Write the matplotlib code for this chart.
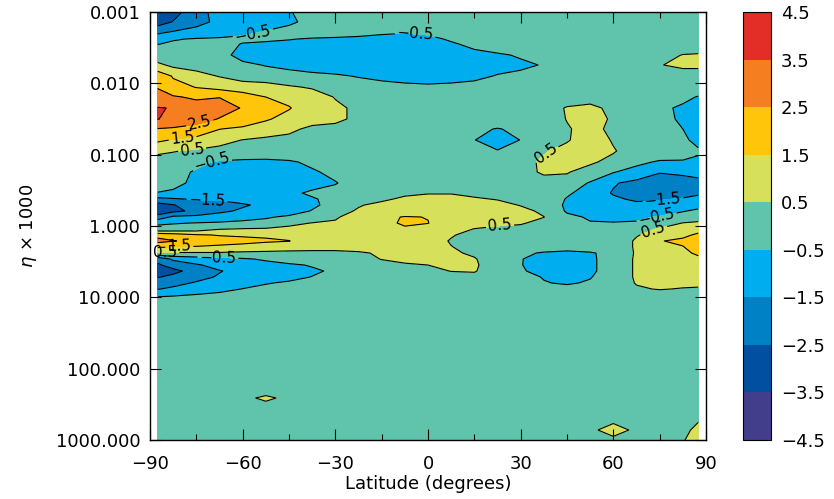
import numpy as np
import matplotlib
matplotlib.use("Agg")
import matplotlib.pyplot as plt
from matplotlib.colors import ListedColormap, BoundaryNorm
from matplotlib.ticker import FixedLocator, NullLocator, FixedFormatter

plt.rcParams['font.family'] = ['DejaVu Sans']

# latitude columns (degrees)
lat = [-87.5, -82.5, -75, -67.5, -60, -52.5, -45, -37.5, -30, -22.5, -15, -7.5, 0,
       7.5, 15, 22.5, 30, 37.5, 45, 52.5, 60, 67.5, 75, 82.5, 87.5]

# log10(eta x 1000) rows
log_eta = [-3.000, -2.860, -2.706, -2.621, -2.551, -2.397, -2.257, -2.103, -1.949,
           -1.808, -1.654, -1.500, -1.360, -1.206, -1.051, -0.897, -0.757, -0.603,
           -0.462, -0.378, -0.294, -0.210, -0.126, -0.042, 0.042, 0.126, 0.210,
           0.295, 0.379, 0.463, 0.547, 0.631, 0.715, 0.799, 0.883, 0.967, 1.052,
           1.290, 2.201, 2.411, 2.608, 2.860, 3.000]

field = [
    [-3.2, -2.8, -2.0, -1.0, -0.9, -0.8, -0.55, -0.2, 0, 0, 0, 0, 0, 0, 0, 0, 0, 0, 0, 0, 0, 0, 0, 0, 0],
    [-2.9, -2.45, -1.9, -1.2, -0.9, -0.8, -0.65, -0.25, 0, 0, 0, 0, 0, 0, 0, 0, 0, 0, 0, 0, 0, 0, 0, 0, 0],
    [-1.6, -1.3, -0.9, -0.8, -0.65, -0.4, -0.1, 0, 0, -0.2, -0.4, -0.48, -0.4, -0.2, 0, 0, 0, 0, 0, 0, 0, 0, 0, 0, 0],
    [-1.0, -0.55, -0.45, -0.4, -0.3, -0.3, -0.45, -0.6, -0.7, -0.75, -0.8, -0.8, -0.7, -0.4, -0.1, 0, 0, 0, 0, 0, 0, 0, 0, 0.1, 0.1],
    [-0.52, -0.4, -0.3, -0.15, -0.55, -0.7, -0.75, -0.8, -0.85, -0.85, -0.85, -0.85, -0.8, -0.6, -0.3, -0.1, 0, 0, 0, 0, 0, 0, 0, 0.15, 0.2],
    [0, -0.1, -0.15, -0.2, -0.8, -0.9, -0.9, -0.9, -0.9, -0.9, -0.9, -0.9, -0.9, -0.8, -0.75, -0.6, -0.42, -0.1, 0, 0, 0, 0, 0.3, 0.52, 0.55],
    [0.7, 0.3, 0.2, 0, -0.3, -0.55, -0.75, -0.85, -0.9, -0.9, -0.9, -0.9, -0.9, -0.85, -0.8, -0.75, -0.65, -0.45, -0.1, 0, 0, 0, 0.48, 0.6, 0.62],
    [2.2, 1.4, 0.8, 0.45, 0.1, 0, -0.1, -0.3, -0.4, -0.55, -0.7, -0.8, -0.85, -0.8, -0.7, -0.45, -0.3, -0.1, 0, 0, 0, 0, 0.2, 0.25, 0.2],
    [2.45, 1.9, 1.45, 1.2, 1.0, 0.9, 0.6, 0.4, 0.1, -0.1, -0.2, -0.3, -0.35, -0.3, -0.2, -0.1, 0, 0, 0, 0, 0, 0, 0, 0, -0.1],
    [2.8, 2.6, 2.35, 2.48, 2.0, 1.5, 1.3, 1.0, 0.45, 0.3, 0.1, 0, 0, 0, 0, 0, 0, 0, 0.2, 0.2, 0, 0, 0, -0.3, -0.55],
    [3.56, 3.45, 3.0, 2.85, 2.45, 2.0, 1.55, 1.05, 0.7, 0.3, 0.1, 0, 0, 0, 0, 0, 0, 0.2, 0.55, 0.7, 0.3, 0, -0.3, -0.65, -0.9],
    [3.52, 3.3, 2.9, 2.45, 2.1, 1.6, 1.2, 0.9, 0.7, 0.3, 0.1, 0, 0, 0, 0, 0, 0, 0.2, 0.52, 0.8, 0.4, 0, -0.3, -0.6, -0.9],
    [2.45, 2.35, 2.1, 1.52, 1.3, 1.0, 0.75, 0.25, 0.2, 0, 0, 0, 0, 0, -0.3, -0.55, -0.3, 0.1, 0.45, 0.7, 0.35, 0, -0.2, -0.5, -0.85],
    [1.65, 1.45, 1.2, 0.8, 0.48, 0.3, 0.15, 0, 0, 0, 0, 0, 0, 0, -0.48, -0.9, -0.48, 0.1, 0.45, 0.8, 0.45, 0.1, -0.1, -0.3, -0.8],
    [0.7, 0.55, 0.35, 0.2, 0.1, 0, 0, 0, 0, 0, 0, 0, 0, 0, -0.3, -0.45, 0.1, 0.45, 0.7, 0.8, 0.55, 0.2, 0, -0.1, -0.35],
    [0, 0, -0.3, -0.6, -0.7, -0.7, -0.6, -0.35, -0.1, 0, 0, 0, 0, 0, 0, 0, 0.3, 0.6, 0.8, 0.6, 0.3, -0.3, -0.6, -0.6, -0.75],
    [0, -0.2, -0.6, -0.8, -0.9, -0.9, -0.8, -0.6, -0.3, 0, 0, 0, 0, 0, 0, 0, 0.25, 0.6, 0.55, 0.2, -0.45, -0.85, -1.45, -1.3, -1.1],
    [0, -0.2, -0.75, -1.0, -1.0, -1.0, -0.9, -0.8, -0.55, -0.1, 0, 0, 0, 0, 0, 0, 0, 0.2, 0.2, -0.6, -1.4, -1.8, -2.0, -2.0, -1.9],
    [-0.55, -0.7, -1.1, -1.2, -1.2, -1.1, -0.7, -0.35, -0.2, 0, 0.1, 0.3, 0.45, 0.45, 0.3, 0.1, 0, 0, -0.4, -0.8, -1.6, -2.0, -2.1, -1.9, -1.6],
    [-1.8, -1.6, -1.4, -1.4, -1.2, -1.1, -0.9, -0.6, -0.2, 0.2, 0.3, 0.7, 0.8, 0.8, 0.6, 0.45, 0.1, 0, -0.55, -0.9, -1.3, -1.7, -1.6, -1.4, -1.3],
    [-2.9, -2.55, -2.0, -1.8, -1.6, -1.3, -1.0, -0.65, -0.2, 0.4, 0.8, 1.0, 1.1, 1.0, 0.9, 0.8, 0.45, -0.1, -0.6, -1.0, -1.1, -1.2, -1.1, -0.9, -0.75],
    [-3.1, -2.7, -2.3, -1.7, -1.35, -1.1, -0.9, -0.45, 0, 0.65, 1.0, 1.0, 1.1, 1.0, 0.95, 0.9, 0.8, 0.3, -0.6, -0.8, -0.85, -0.9, -0.8, -0.55, -0.35],
    [-2.1, -1.3, -1.2, -1.0, -0.8, -0.6, -0.35, 0, 0.4, 0.9, 1.3, 1.55, 1.48, 1.1, 1.0, 0.9, 0.85, 0.52, -0.3, -0.6, -0.6, -0.6, -0.45, -0.1, 0.2],
    [-0.6, -0.55, -0.48, -0.4, -0.3, -0.2, 0.3, 0.52, 0.6, 1.0, 1.3, 1.6, 1.52, 1.0, 0.8, 0.7, 0.6, 0.2, -0.2, -0.45, -0.48, -0.45, 0, 0.52, 0.6],
    [-0.3, -0.2, 0, 0.45, 0.55, 0.6, 0.7, 0.8, 0.8, 0.9, 1.0, 1.4, 1.2, 0.8, 0.48, 0.3, 0.2, 0, 0, 0, 0, 0.1, 0.6, 0.9, 1.2],
    [2.2, 2.0, 1.6, 1.45, 1.4, 1.4, 1.3, 0.95, 0.9, 0.9, 0.9, 0.9, 0.9, 0.55, 0.3, 0.1, 0, 0, 0, 0, 0, 0.45, 0.8, 1.3, 1.65],
    [2.8, 2.55, 2.2, 1.9, 1.75, 1.6, 1.52, 1.1, 1.0, 1.0, 1.0, 0.95, 0.8, 0.45, 0.2, 0, 0, 0, 0, 0, 0, 0.6, 1.45, 1.7, 1.9],
    [1.6, 1.45, 1.4, 1.3, 1.2, 1.1, 1.0, 0.9, 0.9, 0.8, 0.8, 0.8, 0.7, 0.52, 0.3, 0, 0, 0, 0, 0, 0, 0.6, 1.1, 1.45, 2.0],
    [0.4, 0.4, 0.4, 0.4, 0.3, 0.25, 0.2, 0.2, 0.2, 0.4, 0.6, 0.7, 0.7, 0.6, 0.4, 0, -0.3, -0.6, -0.8, -0.6, -0.2, 0.6, 1.0, 1.3, 1.65],
    [-2.3, -1.3, -1.0, -0.8, -0.6, -0.4, -0.2, 0, 0.1, 0.3, 0.52, 0.7, 0.7, 0.7, 0.55, 0.1, -0.45, -0.9, -1.0, -0.7, 0, 0.6, 0.8, 0.9, 1.3],
    [-2.6, -2.2, -1.6, -1.2, -0.9, -0.75, -0.6, -0.45, -0.1, 0.1, 0.3, 0.4, 0.5, 0.6, 0.6, 0.1, -0.45, -1.0, -1.0, -0.7, 0, 0.6, 0.7, 0.8, 0.9],
    [-2.9, -2.7, -2.2, -1.55, -1.2, -0.9, -0.75, -0.6, -0.4, -0.1, 0, 0.1, 0.3, 0.52, 0.55, 0.1, -0.4, -0.8, -0.95, -0.7, 0, 0.6, 0.7, 0.75, 0.8],
    [-2.55, -2.3, -1.8, -1.4, -1.1, -0.85, -0.7, -0.48, -0.3, -0.1, 0, 0, 0.1, 0.2, 0.3, 0, -0.2, -0.55, -0.8, -0.55, 0, 0.6, 0.7, 0.7, 0.7],
    [-2.0, -1.8, -1.4, -1.0, -0.8, -0.55, -0.4, -0.25, -0.1, 0, 0, 0, 0, 0, 0, 0, -0.1, -0.45, -0.6, -0.4, 0, 0.55, 0.7, 0.7, 0.7],
    [-1.55, -1.3, -1.0, -0.75, -0.48, -0.3, -0.15, 0, 0, 0, 0, 0, 0, 0, 0, 0, 0, -0.1, -0.2, -0.1, 0.1, 0.4, 0.55, 0.45, 0.4],
    [-0.7, -0.6, -0.45, -0.3, -0.15, 0, 0, 0, 0, 0, 0, 0, 0, 0, 0, 0, 0, 0, 0, 0, 0, 0, 0.1, 0, 0],
    [0, 0, 0, 0, 0, 0, 0, 0, 0, 0, 0, 0, 0, 0, 0, 0, 0, 0, 0, 0, 0, 0, 0, 0, 0],
    [0, 0, 0, 0, 0, 0, 0, 0, 0, 0, 0, 0, 0, 0, 0, 0, 0, 0, 0, 0, 0, 0, 0, 0, 0],
    [0, 0, 0, 0, 0, 0, 0, 0, 0, 0, 0, 0, 0, 0, 0, 0, 0, 0, 0, 0, 0, 0, 0, 0, 0],
    [0, 0, 0, 0, 0.35, 0.62, 0.35, 0, 0, 0, 0, 0, 0, 0, 0, 0, 0, 0, 0, 0, 0, 0, 0, 0, 0],
    [0, 0, 0, 0, 0, 0, 0, 0, 0, 0, 0, 0, 0, 0, 0, 0, 0, 0, 0, 0, 0.1, 0, 0, 0, 0.3],
    [0, 0, 0, 0, 0, 0, 0, 0, 0, 0, 0, 0, 0, 0, 0, 0, 0, 0, 0, 0.35, 0.8, 0.35, 0, 0.3, 0.7],
    [0, 0, 0, 0, 0, 0, 0, 0, 0, 0, 0, 0, 0, 0, 0, 0, 0, 0, 0, 0.1, 0.3, 0.1, 0, 0.45, 0.8],
]

levels = [-4.5, -3.5, -2.5, -1.5, -0.5, 0.5, 1.5, 2.5, 3.5, 4.5]
band_colors = ['#433E8B', '#004FA1', '#0080C5', '#00AEEF', '#5FC4AB',
               '#D6E05A', '#FFC50A', '#F47E20', '#E32D27']

x_ticks = [-90, -60, -30, 0, 30, 60, 90]
x_ticklabels = ['\u221290', '\u221260', '\u221230', '0', '30', '60', '90']
y_ticks = [0.001, 0.01, 0.1, 1, 10, 100, 1000]
y_ticklabels = ['0.001', '0.010', '0.100', '1.000', '10.000', '100.000', '1000.000']
cbar_ticklabels = ['\u22124.5', '\u22123.5', '\u22122.5', '\u22121.5', '\u22120.5',
                   '0.5', '1.5', '2.5', '3.5', '4.5']

# where the contour labels sit (lat, log10 eta)
label_spots = [(-56.7, -2.70), (-4.2, -2.66), (-74.0, -1.47), (-79.5, -1.25),
               (-76.4, -1.09), (-70.6, -0.95), (-71.5, -0.39), (-85.0, 0.37),
               (-80.5, 0.27), (-68.0, 0.435), (23.3, -0.014), (38.8, -0.995),
               (76.0, -0.378), (74.0, -0.112), (72.8, 0.028)]

eta = 10.0 ** np.array(log_eta)
Z = np.array(field)

cmap = ListedColormap(band_colors)
norm = BoundaryNorm(levels, cmap.N)

fig = plt.figure(figsize=(8.34, 4.99), dpi=100)
ax = fig.add_axes([150 / 834, 59 / 499, 556 / 834, 428 / 499])
cax = fig.add_axes([743 / 834, 59 / 499, 28 / 834, 428 / 499])

cf = ax.contourf(lat, eta, Z, levels=levels, cmap=cmap, norm=norm)
cs = ax.contour(lat, eta, Z, levels=levels[1:-1], colors='k', linewidths=0.8,
                linestyles='solid')

ax.set_yscale('log')
ax.set_xlim(-90, 90)
ax.set_ylim(1000, 0.001)

ax.xaxis.set_major_locator(FixedLocator(x_ticks))
ax.xaxis.set_major_formatter(FixedFormatter(x_ticklabels))
ax.xaxis.set_minor_locator(FixedLocator([-75, -45, -15, 15, 45, 75]))
ax.yaxis.set_major_locator(FixedLocator(y_ticks))
ax.yaxis.set_major_formatter(FixedFormatter(y_ticklabels))
ax.yaxis.set_minor_locator(NullLocator())
ax.tick_params(which='both', direction='in', top=True, right=True, labelsize=13)
ax.tick_params(which='major', length=8, width=0.8)
ax.tick_params(which='minor', length=4, width=0.8)
ax.tick_params(axis='x', pad=11)
ax.tick_params(axis='y', pad=7)
for s in ax.spines.values():
    s.set_linewidth(1.0)

ax.set_xlabel('Latitude (degrees)', fontsize=13, labelpad=1)
ax.set_ylabel('$\\eta$ \u00d7 1000', fontsize=13, labelpad=12)


def fmt(v):
    return ('%.1f' % v).replace('-', '\u2212')


manual = [(a, 10.0 ** b) for a, b in label_spots]
ax.clabel(cs, manual=manual, fmt=fmt, fontsize=11, inline=True, inline_spacing=2)

cb = fig.colorbar(cf, cax=cax, ticks=levels)
cb.ax.set_yticklabels(cbar_ticklabels)
cb.ax.tick_params(length=0, pad=7, labelsize=13)
cb.outline.set_linewidth(0.8)

fig.savefig('out.png', dpi=100)
